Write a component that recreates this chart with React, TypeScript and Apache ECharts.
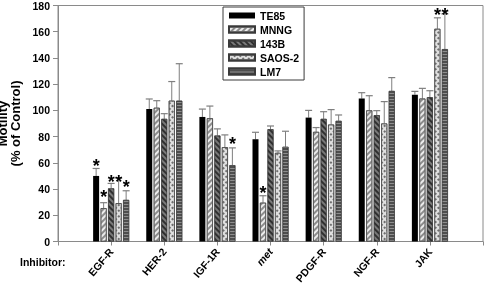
import React, { useEffect, useRef } from "react";
import * as echarts from "echarts";

const categories = ["EGF-R", "HER-2", "IGF-1R", "met", "PDGF-R", "NGF-R", "JAK"];
const seriesNames = ["TE85", "MNNG", "143B", "SAOS-2", "LM7"];

const te85 = [50, 101, 95, 78, 94.5, 109, 112];
const te85Err = [55.7, 108.7, 101, 83.3, 100, 113.5, 114.5];
const mnng = [25.4, 102, 94, 29.6, 83.6, 100, 109];
const mnngErr = [29.6, 107.4, 103.3, 34.9, 86.9, 111.2, 116.8];
const b143 = [40.5, 93.5, 80.8, 85.6, 93.5, 96.3, 110];
const b143Err = [44.3, 97.5, 85.9, 88.1, 99, 99.8, 115];
const saos2 = [29.2, 107.4, 71.9, 67.6, 89.2, 90, 162.2];
const saos2Err = [48.6, 122, 81.3, 69.1, 100.6, 106.7, 170.6];
const lm7 = [31.7, 107.4, 58.2, 72.2, 92, 114.8, 146.7];
const lm7Err = [38.7, 135.6, 71.4, 84.1, 96.5, 125, 173.6];

// significance stars: [category index, series index, level of star centre]
const stars: [number, number, number][] = [
  [0, 0, 60.3],
  [0, 1, 36.7],
  [0, 2, 48.6],
  [0, 3, 48.6],
  [0, 4, 44.3],
  [2, 4, 77.3],
  [3, 1, 40],
  [6, 3, 176],
  [6, 4, 176],
];

const italicCategories = ["met"];

const yTicks = { min: 0, max: 180, interval: 20 };

const FONT = "'Liberation Sans', Arial, sans-serif";

const values = [te85, mnng, b143, saos2, lm7];
const errs = [te85Err, mnngErr, b143Err, saos2Err, lm7Err];

const BAR_W = 6;
const BAR_GAP = 1.5;
const PITCH = BAR_W + BAR_GAP;

const styles = [
  { color: "#000000", decal: undefined as any },
  {
    color: "#ececec",
    decal: { symbol: "rect", symbolSize: 1, color: "#8c8c8c", dashArrayX: [1, 0], dashArrayY: [1.5, 1.5], rotation: -Math.PI / 4 },
  },
  {
    color: "#7a7a7a",
    decal: { symbol: "rect", symbolSize: 1, color: "#303030", dashArrayX: [1, 0], dashArrayY: [1.5, 1.5], rotation: Math.PI / 4 },
  },
  {
    color: "#e0e0e0",
    decal: { symbol: "rect", symbolSize: 1, color: "#6e6e6e", dashArrayX: [1.5, 1.5], dashArrayY: [1.5, 1.5], rotation: Math.PI / 4 },
  },
  {
    color: "#4e4e4e",
    decal: { symbol: "rect", symbolSize: 1, color: "#8e8e8e", dashArrayX: [1, 0], dashArrayY: [1, 2], rotation: 0 },
  },
];

export default function App() {
  const ref = useRef<HTMLDivElement>(null);
  useEffect(() => {
    if (!ref.current) return;
    const chart = echarts.init(ref.current, undefined, { renderer: "svg" });
    const xData = ["", ...categories, ""];

    const barSeries = values.map((vals, s) => ({
      name: seriesNames[s],
      type: "bar",
      data: ["-", ...vals, "-"],
      barWidth: BAR_W,
      barGap: "25%",
      itemStyle: {
        color: styles[s].color,
        decal: styles[s].decal,
        borderColor: "#3a3a3a",
        borderWidth: s === 0 ? 0 : 0.6,
      },
      emphasis: { disabled: true },
    }));

    const errData: number[][] = [];
    values.forEach((vals, s) => {
      vals.forEach((v, i) => errData.push([i + 1, s, v, errs[s][i]]));
    });

    const errSeries = {
      type: "custom",
      coordinateSystem: "cartesian2d",
      encode: { x: 0, y: [2, 3] },
      data: errData,
      silent: true,
      renderItem: (params: any, api: any) => {
        const x = api.value(0);
        const s = api.value(1);
        const p0 = api.coord([x, api.value(2)]);
        const p1 = api.coord([x, api.value(3)]);
        const cx = p0[0] + (s - 2) * PITCH;
        return {
          type: "group",
          children: [
            { type: "line", shape: { x1: cx, y1: p0[1], x2: cx, y2: p1[1] }, style: { stroke: "#7f7f7f", lineWidth: 1 } },
            { type: "line", shape: { x1: cx - 3.5, y1: p1[1], x2: cx + 3.5, y2: p1[1] }, style: { stroke: "#7f7f7f", lineWidth: 1.2 } },
          ],
        };
      },
    };

    const starSeries = {
      type: "custom",
      coordinateSystem: "cartesian2d",
      encode: { x: 0, y: 2 },
      data: stars.map(([c, s, lvl]) => [c + 1, s, lvl]),
      silent: true,
      renderItem: (params: any, api: any) => {
        const x = api.value(0);
        const s = api.value(1);
        const p = api.coord([x, api.value(2)]);
        return {
          type: "text",
          x: p[0] + (s - 2) * PITCH,
          y: p[1] + 4,
          style: {
            text: "*",
            fontSize: 18,
            fontWeight: "bold",
            fontFamily: FONT,
            fill: "#000",
            textAlign: "center",
            textVerticalAlign: "middle",
          },
        };
      },
    };

    chart.setOption({
      animation: false,
      grid: {
        left: 58,
        right: 1,
        top: 5.5,
        bottom: 45.5,
        containLabel: false,
        outerBoundsMode: "none",
        show: true,
        borderColor: "#8a8a8a",
        borderWidth: 1,
      },
      legend: {
        data: seriesNames,
        orient: "vertical",
        left: 223,
        top: 7,
        itemWidth: 26,
        itemHeight: 6,
        itemGap: 3,
        icon: "rect",
        padding: [3, 5, 3, 5],
        backgroundColor: "#fff",
        borderColor: "#3a3a3a",
        borderWidth: 1,
        borderRadius: 0,
        selectedMode: false,
        textStyle: { fontFamily: FONT, fontWeight: "bold", fontSize: 10.5, color: "#000" },
      },
      xAxis: {
        type: "category",
        data: xData,
        boundaryGap: false,
        axisLine: { lineStyle: { color: "#8a8a8a" } },
        axisTick: { show: true, length: 4, interval: 0, lineStyle: { color: "#8a8a8a" } },
        axisLabel: {
          show: true,
          interval: 0,
          rotate: 50,
          margin: 8,
          hideOverlap: false,
          fontFamily: FONT,
          fontWeight: "bold",
          fontSize: 10.5,
          color: "#000",
          formatter: (v: string) => (italicCategories.includes(v) ? "{i|" + v + "}" : v),
          rich: { i: { fontStyle: "italic", fontWeight: "bold", fontFamily: FONT, fontSize: 10.5, color: "#000" } },
        },
        splitLine: { show: false },
      },
      yAxis: {
        type: "value",
        min: yTicks.min,
        max: yTicks.max,
        interval: yTicks.interval,
        name: "Motility\n(% of Control)",
        nameLocation: "middle",
        nameGap: 27,
        nameTextStyle: { fontFamily: FONT, fontWeight: "bold", fontSize: 13, color: "#000", lineHeight: 13 },
        axisLine: { show: true, lineStyle: { color: "#8a8a8a" } },
        axisTick: { show: true, length: 5, lineStyle: { color: "#8a8a8a" } },
        axisLabel: { margin: 8, fontFamily: FONT, fontWeight: "bold", fontSize: 10.5, color: "#000" },
        splitLine: { show: false },
      },
      graphic: [
        {
          type: "text",
          left: 20,
          top: 256,
          style: { text: "Inhibitor:", fontFamily: FONT, fontWeight: "bold", fontSize: 10.5, fill: "#000" },
        },
      ],
      series: [...barSeries, errSeries, starSeries],
    });
    return () => chart.dispose();
  }, []);
  return <div ref={ref} style={{ position: "fixed", left: 0, top: 0, width: 484, height: 287 }} />;
}
